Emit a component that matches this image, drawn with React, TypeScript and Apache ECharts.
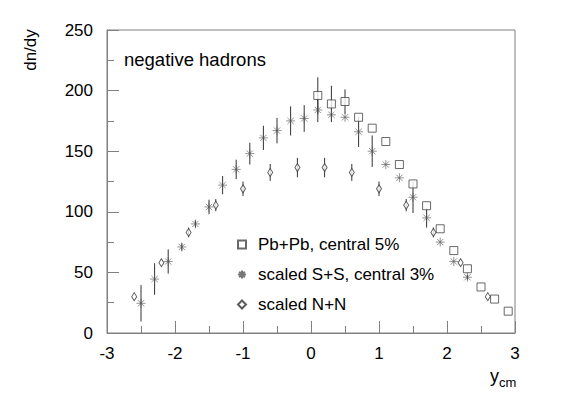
import React, { useEffect, useRef } from "react";
import * as echarts from "echarts";

const pbX = [0.1, 0.3, 0.5, 0.7, 0.9, 1.1, 1.3, 1.5, 1.7, 1.9, 2.1, 2.3, 2.5, 2.7, 2.9];
const pbY = [196, 189, 191, 178, 169, 158, 139, 123, 105, 86, 68, 53, 38, 28, 18];
const pbErr = [15, 15, 10, 0, 0, 0, 0, 0, 0, 0, 0, 0, 0, 0, 0];

const ssX = [-2.5, -2.3, -2.1, -1.9, -1.7, -1.5, -1.3, -1.1, -0.9, -0.7, -0.5, -0.3, -0.1, 0.1, 0.3, 0.5, 0.7, 0.9, 1.1, 1.3, 1.5, 1.7, 1.9, 2.1, 2.3];
const ssY = [24.5, 44.5, 59, 71, 90, 104, 122, 135, 148, 161, 167, 175, 177, 184, 180, 178, 166, 150, 139, 128, 112, 95, 75, 59, 46];
const ssErr = [15, 13, 10, 3, 3, 6, 7.5, 8, 9, 10, 10.5, 12, 11, 10, 0, 0, 12.5, 13, 0, 0, 13, 8, 0, 0, 2];

const nnX = [-2.6, -2.2, -1.8, -1.4, -1.0, -0.6, -0.2, 0.2, 0.6, 1.0, 1.4, 1.8, 2.2, 2.6];
const nnY = [30, 58, 83, 105.5, 119, 132.5, 136.5, 136.5, 132.5, 119, 105.5, 83, 58, 30];
const nnErr = [0, 0, 4, 5, 6, 7, 8, 8, 7, 6, 5, 4, 0, 0];

const seriesNames = ["Pb+Pb, central 5%", "scaled S+S, central 3%", "scaled N+N"];
const xTicks = { min: -3, max: 3, interval: 1 };
const yTicks = { min: 0, max: 250, interval: 50 };

const FONT = "'Liberation Sans', Arial, sans-serif";
const INK = "#333";
const FRAME = "#808080";
const STAR = "path://M5,0L5,10M0,5L10,5M1.5,1.5L8.5,8.5M1.5,8.5L8.5,1.5";

function zip(xs: number[], ys: number[]) {
  return xs.map((x, i) => [x, ys[i]]);
}
function zip3(xs: number[], ys: number[], es: number[]) {
  return xs.map((x, i) => [x, ys[i], es[i]]);
}

function errorSeries(data: number[][]) {
  return {
    type: "custom",
    silent: true,
    z: 1,
    data,
    renderItem: (params: any, api: any) => {
      const x = api.value(0);
      const y = api.value(1);
      const e = api.value(2);
      if (!e || e <= 0) return null;
      const p1 = api.coord([x, y + e]);
      const p2 = api.coord([x, y - e]);
      return {
        type: "line",
        shape: { x1: p1[0], y1: p1[1], x2: p2[0], y2: p2[1] },
        style: { stroke: INK, lineWidth: 1 },
      };
    },
  };
}

export default function App() {
  const ref = useRef<HTMLDivElement>(null);
  useEffect(() => {
    if (!ref.current) return;
    const chart = echarts.init(ref.current, undefined, { renderer: "svg" });
    const axisCommon = {
      axisLine: { show: true, onZero: false, lineStyle: { color: FRAME, width: 1 } },
      axisTick: { show: true, inside: true, length: 12, lineStyle: { color: FRAME } },
      minorTick: { show: true, splitNumber: 2, length: 7, lineStyle: { color: FRAME } },
      splitLine: { show: false },
      minorSplitLine: { show: false },
      axisLabel: { color: "#000", fontSize: 17, fontFamily: FONT },
    };
    chart.setOption({
      animation: false,
      backgroundColor: "#fff",
      grid: {
        left: 107,
        right: 66,
        top: 30,
        bottom: 66,
        show: true,
        borderColor: FRAME,
        borderWidth: 1,
      },
      xAxis: {
        type: "value",
        ...xTicks,
        ...axisCommon,
        axisLabel: { ...axisCommon.axisLabel, margin: 12 },
      },
      yAxis: {
        type: "value",
        ...yTicks,
        ...axisCommon,
        axisLabel: { ...axisCommon.axisLabel, margin: 14 },
      },
      legend: {
        orient: "vertical",
        left: 232,
        top: 231,
        itemWidth: 8,
        itemHeight: 8,
        itemGap: 13,
        data: seriesNames,
        textStyle: { color: "#000", fontSize: 17, fontFamily: FONT, padding: [0, 0, 0, 7] },
      },
      graphic: [
        {
          type: "text",
          left: 124,
          top: 50,
          style: { text: "negative hadrons", fill: "#000", font: `18.5px ${FONT}` },
        },
        {
          type: "text",
          x: 30,
          y: 50,
          rotation: Math.PI / 2,
          style: {
            text: "dn/dy",
            fill: "#000",
            font: `17px ${FONT}`,
            align: "center",
            verticalAlign: "middle",
          },
        },
        {
          type: "text",
          x: 490,
          y: 367,
          style: { text: "y", fill: "#000", font: `18px ${FONT}` },
        },
        {
          type: "text",
          x: 499,
          y: 376,
          style: { text: "cm", fill: "#000", font: `13px ${FONT}` },
        },
      ],
      series: [
        errorSeries(zip3(pbX, pbY, pbErr)),
        errorSeries(zip3(ssX, ssY, ssErr)),
        errorSeries(zip3(nnX, nnY, nnErr)),
        {
          name: seriesNames[0],
          type: "scatter",
          z: 3,
          symbol: "rect",
          symbolSize: 8,
          data: zip(pbX, pbY),
          itemStyle: { color: "#fff", borderColor: "#444", borderWidth: 1 },
        },
        {
          name: seriesNames[1],
          type: "scatter",
          z: 3,
          symbol: STAR,
          symbolSize: 9,
          symbolKeepAspect: true,
          data: zip(ssX, ssY),
          itemStyle: { color: "rgba(0,0,0,0)", borderColor: "#555", borderWidth: 0.8 },
        },
        {
          name: seriesNames[2],
          type: "scatter",
          z: 3,
          symbol: "diamond",
          symbolSize: [5, 8],
          data: zip(nnX, nnY),
          itemStyle: { color: "#fff", borderColor: INK, borderWidth: 1 },
        },
      ],
    });
    return () => chart.dispose();
  }, []);
  return (
    <div
      ref={ref}
      style={{ position: "fixed", left: 0, top: 0, width: 581, height: 399 }}
    />
  );
}
